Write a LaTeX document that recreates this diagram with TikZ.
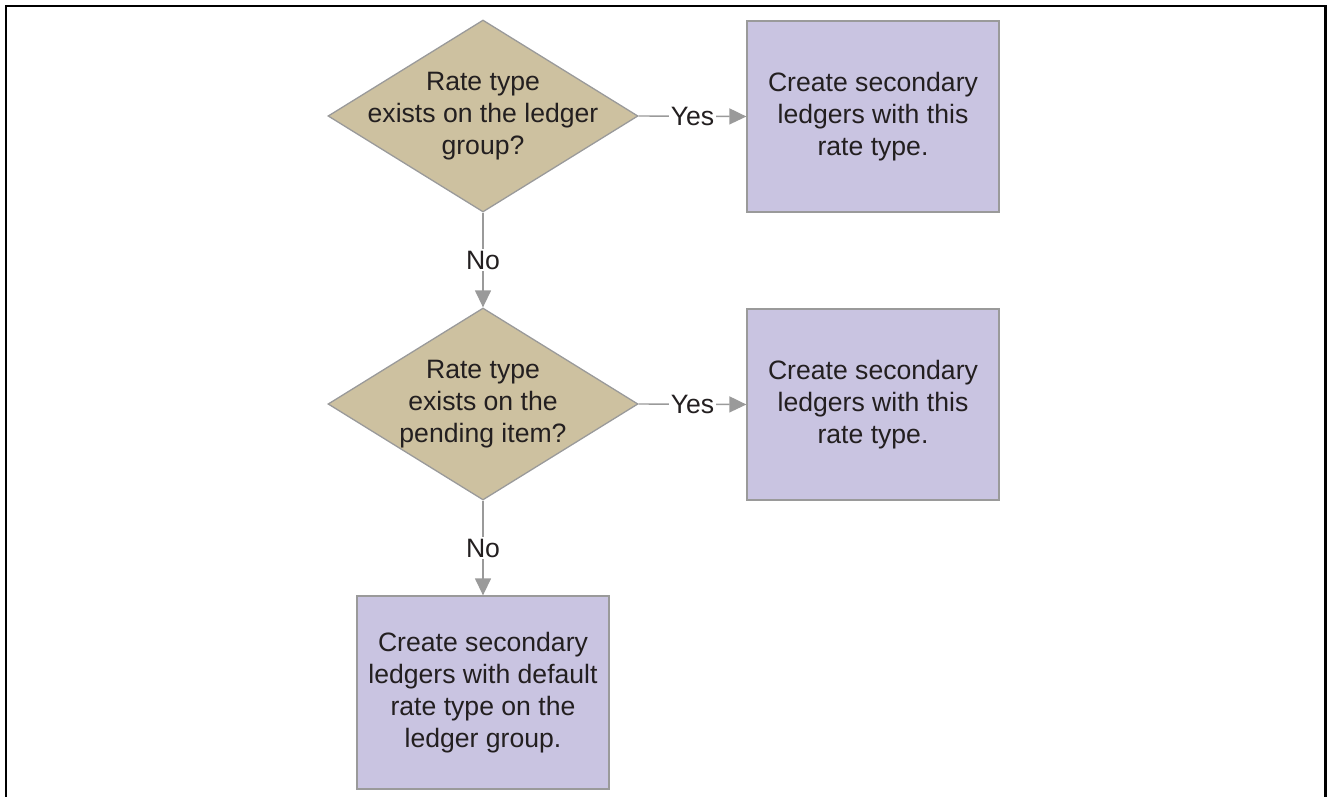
\documentclass[tikz,border=0pt]{standalone}
\usepackage{fontspec}
\setmainfont{Liberation Sans}
\usetikzlibrary{shapes.geometric,arrows.meta}
\definecolor{decisiontan}{HTML}{CDC1A0}
\definecolor{actionlilac}{HTML}{C9C4E1}
\definecolor{edgegray}{HTML}{9A9A9A}
\definecolor{inkdark}{HTML}{231F20}

\begin{document}
\begin{tikzpicture}[
    x=1pt, y=1pt,
    decision/.style={
      diamond, aspect=1.615,
      minimum width=310pt, minimum height=192pt, inner sep=0pt,
      fill=decisiontan, draw=edgegray, line width=1.3pt,
    },
    dectext/.style={
      text=inkdark, font=\fontsize{26.6}{32}\selectfont,
      align=center, inner sep=0pt,
    },
    action/.style={
      rectangle, minimum width=252pt, minimum height=191pt,
      fill=actionlilac, draw=edgegray, line width=1.3pt,
      text=inkdark, font=\fontsize{26.6}{32}\selectfont,
      align=center, inner sep=4pt,
    },
    arr/.style={-{Triangle[length=17pt,width=16pt]}, draw=edgegray, line width=1.4pt},
    elab/.style={fill=white, text=inkdark, font=\fontsize{26.6}{32}\selectfont, inner sep=1.5pt},
  ]

  \useasboundingbox (0,0) rectangle (1328,-797);

  % ---- Outer frame ----
  \draw[line width=2.6pt, black] (6,-797) -- (6,-6) -- (1325.5,-6) -- (1325.5,-797);

  % ---- First check: ledger group ----
  \node[decision] (grp) at (483,-116) {};
  \node[dectext] (grptxt) at (grp) {Rate type\\exists on the ledger\\group?};
  \node[action] (grpyes) at (873,-116.5) {Create secondary\\ledgers with this\\rate type.};
  \draw[arr] (grp.east) -- node[elab] (grpy) {Yes} (grpyes.west);

  % ---- Second check: pending item ----
  \node[decision] (pend) at (483,-404) {};
  \node[dectext] (pendtxt) at (pend) {Rate type\\exists on the\\pending item?};
  \node[action] (pendyes) at (873,-404.5) {Create secondary\\ledgers with this\\rate type.};
  \draw[arr] (grp.south) -- node[elab] (grpn) {No} (pend.north);
  \draw[arr] (pend.east) -- node[elab] (pendy) {Yes} (pendyes.west);

  % ---- Fallback: default rate type ----
  \node[action, minimum height=193pt] (dflt) at (483,-692.5) {Create secondary\\ledgers with default\\rate type on the\\ledger group.};
  \draw[arr] (pend.south) -- node[elab] (pendn) {No} (dflt.north);

\end{tikzpicture}
\end{document}
